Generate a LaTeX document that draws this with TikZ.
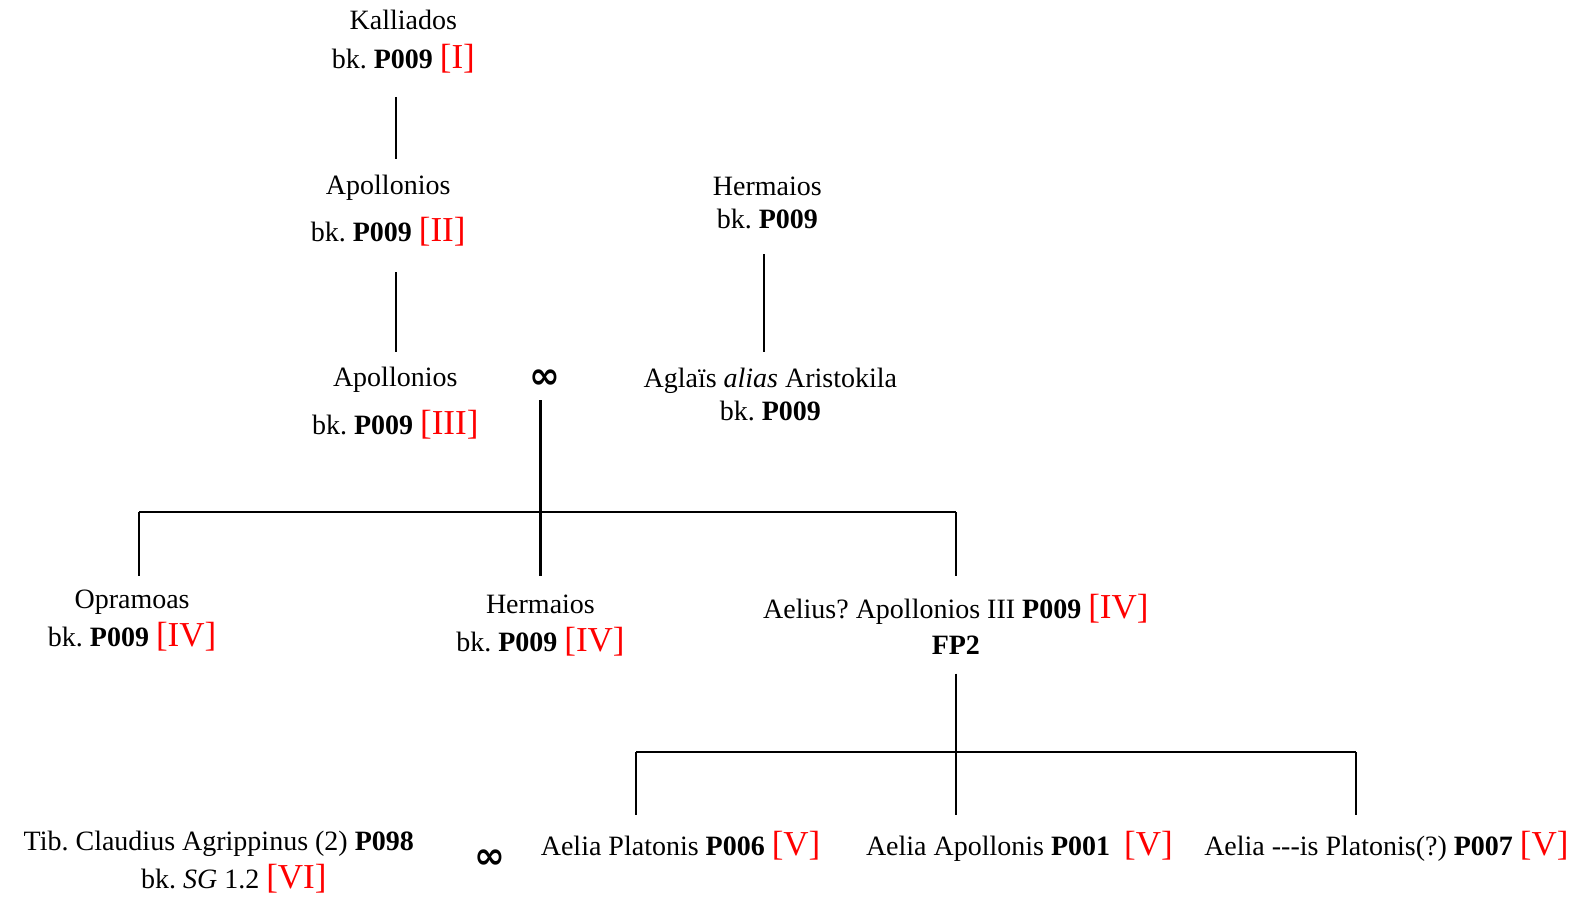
\documentclass[tikz,border=0pt]{standalone}
\usepackage{fontspec}
\setmainfont{Liberation Serif}
\newfontfamily\symfont{DejaVu Sans}
\frenchspacing
\newcommand{\rn}[1]{{\color{red}\fontsize{35}{35}\selectfont[#1]}}
\begin{document}
\frenchspacing
\begin{tikzpicture}[x=1.0083pt,y=-1.0083pt,
  font=\fontsize{28}{33}\selectfont,
  person/.style={align=center, inner sep=0pt},
  rel/.style={line width=2.2pt},
  marr/.style={inner sep=0pt, font=\symfont\fontsize{37}{37}\selectfont\bfseries}]
\useasboundingbox (0,0) rectangle (1568,892);
% people
\node[person] (kall) at (400,41) {Kalliados\\[6pt]bk. \textbf{P009} \rn{I}};
\node[person] (apo2) at (385,209) {Apollonios\\[14pt]bk. \textbf{P009} \rn{II}};
\node[person] (apo3) at (392,400) {Apollonios\\[15pt]bk. \textbf{P009} \rn{III}};
\node[person] (herm1) at (761,201) {Hermaios\\bk. \textbf{P009}};
\node[person] (aglais) at (764,391) {Aglaïs \textit{alias} Aristokila\\bk. \textbf{P009}};
\node[marr] (inf1) at (540,376) {∞};
\node[person] (opra) at (131,615) {Opramoas\\[5pt]bk. \textbf{P009} \rn{IV}};
\node[person] (herm2) at (536,620) {Hermaios\\[5pt]bk. \textbf{P009} \rn{IV}};
\node[person] (aelius) at (948,619) {Aelius? Apollonios III \textbf{P009} \rn{IV}\\[3pt]\textbf{FP2}};
\node[person] (tib) at (217,855) {Tib. Claudius Agrippinus (2) \textbf{P098}\\[5pt]\hspace*{30pt}bk. \textit{SG} 1.2 \rn{VI}};
\node[marr] (inf2) at (486,852) {∞};
\node[person] (plat) at (675,839) {Aelia Platonis \textbf{P006} \rn{V}};
\node[person] (apol) at (1011,839) {Aelia Apollonis \textbf{P001}\ \ \rn{V}};
\node[person] (plat2) at (1375,839) {Aelia -{}-{}-is Platonis(?) \textbf{P007} \rn{V}};
% connector points
\coordinate (k1) at (393,96);  \coordinate (k2) at (393,158);
\coordinate (a1) at (393,270); \coordinate (a2) at (393,349);
\coordinate (h1) at (758,252); \coordinate (h2) at (758,349);
\coordinate (m1) at (536,397); \coordinate (m2) at (536,508);
\coordinate (bl) at (138,508); \coordinate (br) at (948,508);
\coordinate (dl) at (138,571); \coordinate (dm) at (536,571); \coordinate (dr) at (948,571);
\coordinate (f1) at (948,668); \coordinate (f2) at (948,746);
\coordinate (cl) at (631,746); \coordinate (cr) at (1345,746);
\coordinate (el) at (631,808); \coordinate (em) at (948,808); \coordinate (er) at (1345,808);
% connectors
\draw[rel] (k1) -- (k2);
\draw[rel] (a1) -- (a2);
\draw[rel] (h1) -- (h2);
\draw[rel] (m1) -- (m2);
\draw[rel] (bl) -- (br);
\draw[rel] (bl) -- (dl);
\draw[rel] (m2) -- (dm);
\draw[rel] (br) -- (dr);
\draw[rel] (f1) -- (em);
\draw[rel] (cl) -- (cr);
\draw[rel] (cl) -- (el);
\draw[rel] (cr) -- (er);
\end{tikzpicture}
\end{document}
